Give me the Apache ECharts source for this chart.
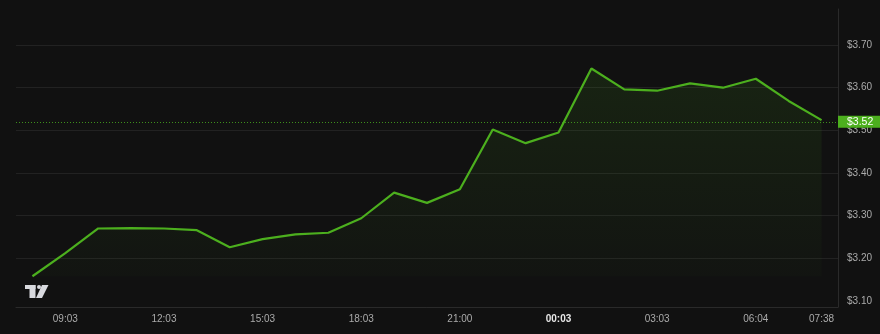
<!DOCTYPE html>
<html>
<head>
<meta charset="utf-8">
<script src="https://cdn.jsdelivr.net/npm/echarts@6/dist/echarts.min.js"></script>
<style>
html,body{margin:0;padding:0;background:#111111;}
#chart{width:880px;height:334px;}
</style>
</head>
<body>
<div id="chart"></div>
<script>
const categories = ['08:03','09:03','10:03','11:03','12:03','13:03','14:03','15:03','16:03','17:03','18:03','19:03','20:03','21:00','22:03','23:03','00:03','01:03','02:03','03:03','04:03','05:03','06:04','07:04','07:38'];
const prices = [3.158,3.212,3.270,3.271,3.270,3.266,3.226,3.245,3.256,3.260,3.294,3.354,3.330,3.362,3.502,3.470,3.495,3.645,3.596,3.593,3.610,3.600,3.621,3.569,3.524];
const shownLabels = ['09:03','12:03','15:03','18:03','21:00','00:03','03:03','06:04','07:38'];
const boldLabels = ['00:03'];
const yTicks = [3.1, 3.8, 0.1]; // min, max, step

const lastPrice = prices[prices.length - 1];
const minPrice = Math.min.apply(null, prices);
const font = 'Liberation Sans';
const fs = 10;

const chart = echarts.init(document.getElementById('chart'), null, {renderer: 'canvas'});
chart.setOption({
  backgroundColor: '#111111',
  animation: false,
  textStyle: {fontFamily: font},
  grid: [
    {left: 16, right: 42, top: 2.4, bottom: 33},
    {left: 16, right: 42, top: 9, bottom: 27}
  ],
  xAxis: [
    {gridIndex: 0, type: 'category', data: categories, show: false},
    {
      gridIndex: 1, type: 'category', data: categories,
      axisLine: {show: true, lineStyle: {color: '#2a2a2a', width: 1}},
      axisTick: {show: false},
      splitLine: {show: false},
      axisLabel: {
        margin: 7,
        fontSize: fs,
        fontFamily: font,
        color: '#ababab',
        interval: function (i, v) { return shownLabels.indexOf(v) >= 0; },
        formatter: function (v) { return boldLabels.indexOf(v) >= 0 ? '{b|' + v + '}' : v; },
        rich: {b: {fontWeight: 'bold', color: '#e6e6e6', fontSize: fs, fontFamily: font}}
      }
    }
  ],
  yAxis: [
    {
      gridIndex: 0, type: 'value', position: 'right',
      min: yTicks[0], max: yTicks[1], interval: yTicks[2],
      axisLine: {show: false}, axisTick: {show: false},
      axisLabel: {
        margin: 9, fontSize: fs, fontFamily: font, color: '#ababab',
        formatter: function (v) { return v > yTicks[1] - yTicks[2] / 2 ? '' : '$' + v.toFixed(2); }
      },
      splitLine: {show: true, showMinLine: false, showMaxLine: false, lineStyle: {color: '#222222', width: 1}}
    },
    {
      gridIndex: 1, type: 'value', position: 'right', min: 0, max: 1,
      axisLine: {show: true, lineStyle: {color: '#2a2a2a', width: 1}},
      axisTick: {show: false}, axisLabel: {show: false}, splitLine: {show: false}
    }
  ],
  series: [{
    type: 'line',
    xAxisIndex: 0, yAxisIndex: 0,
    data: prices,
    symbol: 'none',
    lineStyle: {color: '#4caf1e', width: 2.2},
    areaStyle: {
      origin: minPrice,
      color: new echarts.graphic.LinearGradient(0, 0, 0, 1, [
        {offset: 0, color: 'rgba(76,175,30,0.17)'},
        {offset: 1, color: 'rgba(76,175,30,0.03)'}
      ])
    },
    markLine: {
      silent: true,
      symbol: 'none',
      lineStyle: {color: '#3d8f1c', type: [1, 2], width: 1},
      label: {
        position: 'end', distance: 0,
        formatter: function (p) { return '$' + p.value.toFixed(2); },
        color: '#ffffff', fontSize: fs + 0.5, fontFamily: font,
        backgroundColor: '#4caf1e',
        padding: [1, 14, 0, 9]
      },
      data: [{yAxis: lastPrice}]
    }
  }],
  graphic: [{
    type: 'group', left: 25, top: 285,
    children: [
      {type: 'rect', shape: {x: 0, y: 0, width: 10.5, height: 4}, style: {fill: '#d8d9de'}},
      {type: 'rect', shape: {x: 4.5, y: 0, width: 6, height: 13}, style: {fill: '#d8d9de'}},
      {type: 'circle', shape: {cx: 14, cy: 2, r: 2}, style: {fill: '#d8d9de'}},
      {type: 'polygon', shape: {points: [[17, 0], [23.5, 0], [17, 13], [11, 13]]}, style: {fill: '#d8d9de'}}
    ]
  }]
});
</script>
</body>
</html>
